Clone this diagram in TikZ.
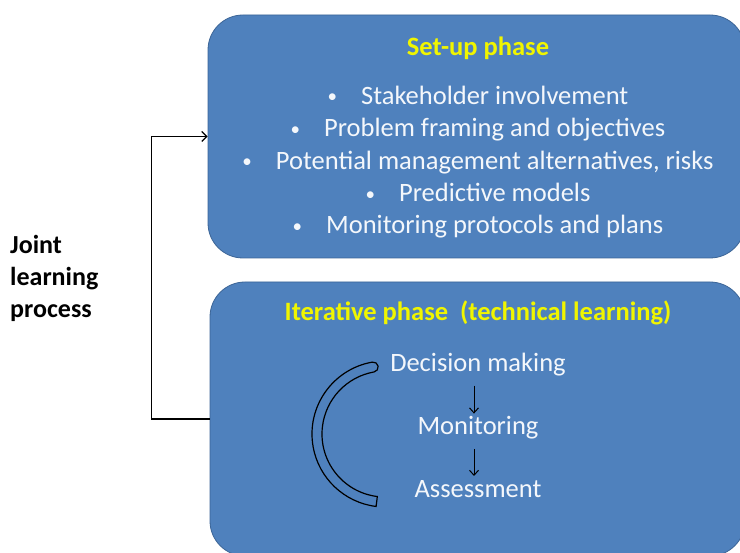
\documentclass[tikz,border=0pt]{standalone}
\usepackage{fontspec}
\setmainfont{Carlito}
\usepackage{xcolor}
\usetikzlibrary{positioning, arrows.meta}

\definecolor{phasefill}{HTML}{4F81BD}
\definecolor{phaseline}{HTML}{3B6496}
\definecolor{phasetitle}{HTML}{F0F500}
\definecolor{phasetext}{HTML}{F4F7FB}
\newcommand{\itembullet}{{\fontsize{19}{19}\selectfont\raisebox{1.5pt}{\textbullet}}\hspace{24pt}}

\begin{document}
\begin{tikzpicture}[
    x=1pt, y=-1pt,
    node distance=10pt,
    phase/.style={rectangle, draw=phaseline, fill=phasefill, rounded corners=35pt, line width=0.8pt},
    title/.style={font=\fontsize{26.5}{30}\selectfont\bfseries, text=phasetitle, inner sep=0pt, text height=17pt, text depth=5pt},
    item/.style={font=\fontsize{26.5}{30}\selectfont, text=phasetext, inner sep=0pt, text height=17pt, text depth=5pt},
    process/.style={font=\fontsize{26}{32}\selectfont\bfseries, align=left, inner sep=0pt},
    arrow/.style={-{Straight Barb[length=5pt, width=9pt]}, line width=1pt},
    link/.style={-{Straight Barb[length=5pt, width=10pt]}, line width=1.2pt}
]
\useasboundingbox (0,0) rectangle (740,553);

% the two phases
\node[phase, minimum width=537pt, minimum height=243pt] (setup) at (476.5,136.5) {};
\node[phase, minimum width=535pt, minimum height=274pt] (iter) at (477.5,419) {};

% set-up phase
\node[title] (setuptitle) at (478,50) {Set-up phase};
\node[item, below=26pt of setuptitle] (stake) {\itembullet Stakeholder involvement};
\node[item, below=of stake] (frame) {\itembullet Problem framing and objectives};
\node[item, below=of frame] (alter) {\itembullet Potential management alternatives, risks};
\node[item, below=of alter] (model) {\itembullet Predictive models};
\node[item, below=of model] (plans) {\itembullet Monitoring protocols and plans};

% iterative phase
\node[title] (itertitle) at (478,315) {Iterative phase\ \ (technical learning)};
\node[item, below=28pt of itertitle] (decide) {Decision making};
\node[item, below=41pt of decide] (monitor) {Monitoring};
\node[item, below=40pt of monitor] (assess) {Assessment};

\draw[arrow, shorten <=9pt, shorten >=4pt] ([xshift=-4pt]decide.south) -- ([xshift=-4pt]monitor.north);
\draw[arrow, shorten <=9pt, shorten >=4pt] ([xshift=-4pt]monitor.south) -- ([xshift=-4pt]assess.north);

% cycle band
\coordinate (cycle) at (385,434);
\draw[line width=1.2pt] ([shift={(260:73)}]cycle) arc[start angle=260, end angle=97, radius=73]
    -- ([shift={(97:63)}]cycle) arc[start angle=97, end angle=260, radius=63]
    arc[start angle=80, end angle=-100, radius=5] -- cycle;

% joint learning
\node[process, anchor=west] (joint) at (10,278) {Joint\\learning\\process};
\draw[link] (iter.west) -- ++(-58,0) |- (setup.west);
\end{tikzpicture}
\end{document}
